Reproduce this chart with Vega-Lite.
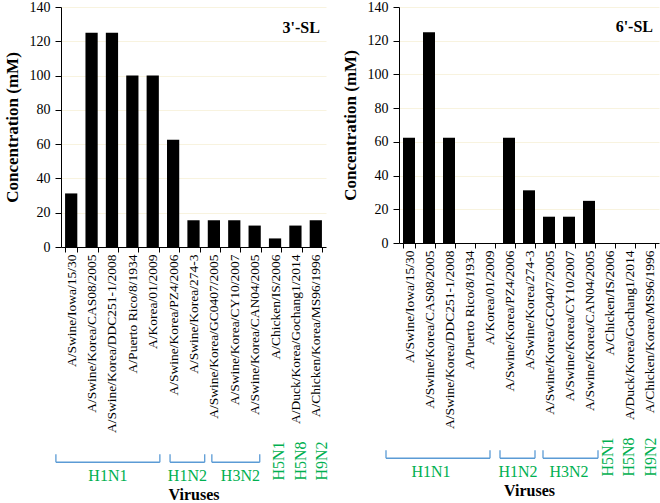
{
  "$schema": "https://vega.github.io/schema/vega-lite/v6.json",
  "padding": {"left": 3, "top": 0, "right": 2, "bottom": 0},
  "background": "white",
  "config": {
    "font": "Liberation Serif",
    "view": {"stroke": null},
    "concat": {"spacing": 11},
    "axis": {"labelFont": "Liberation Serif", "titleFont": "Liberation Serif", "labelColor": "black", "titleColor": "black", "domainColor": "black", "tickColor": "black"},
    "text": {"font": "Liberation Serif"}
  },
  "datasets": {
    "sl3": [
      {"virus": "A/Swine/Iowa/15/30", "conc": 31.25},
      {"virus": "A/Swine/Korea/CAS08/2005", "conc": 125},
      {"virus": "A/Swine/Korea/DDC251-1/2008", "conc": 125},
      {"virus": "A/Puerto Rico/8/1934", "conc": 100},
      {"virus": "A/Korea/01/2009", "conc": 100},
      {"virus": "A/Swine/Korea/PZ4/2006", "conc": 62.5},
      {"virus": "A/Swine/Korea/274-3", "conc": 15.6},
      {"virus": "A/Swine/Korea/GC0407/2005", "conc": 15.6},
      {"virus": "A/Swine/Korea/CY10/2007", "conc": 15.6},
      {"virus": "A/Swine/Korea/CAN04/2005", "conc": 12.5},
      {"virus": "A/Chicken/IS/2006", "conc": 5},
      {"virus": "A/Duck/Korea/Gochang1/2014", "conc": 12.5},
      {"virus": "A/Chicken/Korea/MS96/1996", "conc": 15.6}
    ],
    "sl6": [
      {"virus": "A/Swine/Iowa/15/30", "conc": 62.5},
      {"virus": "A/Swine/Korea/CAS08/2005", "conc": 125},
      {"virus": "A/Swine/Korea/DDC251-1/2008", "conc": 62.5},
      {"virus": "A/Puerto Rico/8/1934", "conc": 0},
      {"virus": "A/Korea/01/2009", "conc": 0},
      {"virus": "A/Swine/Korea/PZ4/2006", "conc": 62.5},
      {"virus": "A/Swine/Korea/274-3", "conc": 31.25},
      {"virus": "A/Swine/Korea/GC0407/2005", "conc": 15.6},
      {"virus": "A/Swine/Korea/CY10/2007", "conc": 15.6},
      {"virus": "A/Swine/Korea/CAN04/2005", "conc": 25},
      {"virus": "A/Chicken/IS/2006", "conc": 0},
      {"virus": "A/Duck/Korea/Gochang1/2014", "conc": 0},
      {"virus": "A/Chicken/Korea/MS96/1996", "conc": 0}
    ],
    "br3": [
      {"subtype": "H1N1", "start": -0.25, "end": 4.85, "mid": 2.3, "kind": "bracket"},
      {"subtype": "H1N2", "start": 5.35, "end": 7.05, "mid": 6.2, "kind": "bracket"},
      {"subtype": "H3N2", "start": 7.4, "end": 9.75, "mid": 8.8, "kind": "bracket"},
      {"subtype": "H5N1", "mid": 10.7, "kind": "single"},
      {"subtype": "H5N8", "mid": 11.75, "kind": "single"},
      {"subtype": "H9N2", "mid": 12.8, "kind": "single"}
    ],
    "br6": [
      {"subtype": "H1N1", "start": -0.65, "end": 4.55, "mid": 1.6, "kind": "bracket"},
      {"subtype": "H1N2", "start": 5.05, "end": 6.8, "mid": 5.95, "kind": "bracket"},
      {"subtype": "H3N2", "start": 7.2, "end": 9.95, "mid": 8.5, "kind": "bracket"},
      {"subtype": "H5N1", "mid": 10.45, "kind": "single"},
      {"subtype": "H5N8", "mid": 11.5, "kind": "single"},
      {"subtype": "H9N2", "mid": 12.6, "kind": "single"}
    ]
  },
  "hconcat": [
    {
      "spacing": 7,
      "vconcat": [
        {
          "width": 265,
          "height": 240,
          "data": {"name": "sl3"},
          "layer": [
            {
              "mark": {"type": "bar", "color": "black"},
              "encoding": {
                "x": {"field": "virus", "type": "nominal", "sort": null,
                  "scale": {"paddingInner": 0.4, "paddingOuter": 0.2},
                  "axis": {"title": null, "labelAngle": -90, "labelFont": "Liberation Serif", "labelFontSize": 13.5, "labelLimit": 0, "labelOverlap": false, "tickBand": "extent", "tickSize": 5, "labelPadding": 2}},
                "y": {"field": "conc", "type": "quantitative",
                  "scale": {"domain": [0, 140], "nice": false},
                  "axis": {"title": "Concentration (mM)", "titleFont": "Liberation Serif", "labelFont": "Liberation Serif", "titleFontSize": 17, "titleFontWeight": "bold", "titlePadding": 8, "labelFontSize": 14, "labelOverlap": false, "values": [0, 20, 40, 60, 80, 100, 120, 140], "tickSize": 6, "labelPadding": 5, "grid": true, "gridColor": "#f8f3df"}}
              }
            },
            {
              "transform": [{"filter": "datum.virus == 'A/Chicken/Korea/MS96/1996'"}],
              "mark": {"type": "text", "align": "right", "baseline": "middle", "fontWeight": "bold", "fontSize": 16, "dx": -2, "color": "black"},
              "encoding": {
                "x": {"field": "virus", "type": "nominal", "sort": null, "bandPosition": 1},
                "y": {"datum": 128, "type": "quantitative",
                  "axis": {"title": "Concentration (mM)", "titleFont": "Liberation Serif", "labelFont": "Liberation Serif", "titleFontSize": 17, "titleFontWeight": "bold", "titlePadding": 8, "labelFontSize": 14, "labelOverlap": false, "values": [0, 20, 40, 60, 80, 100, 120, 140], "tickSize": 6, "labelPadding": 5, "grid": true, "gridColor": "#f8f3df"}},
                "text": {"value": "3'-SL"}
              }
            }
          ]
        },
        {
          "width": 265,
          "height": 42,
          "data": {"name": "br3"},
          "encoding": {
            "x": {"type": "quantitative", "scale": {"domain": [0, 13], "nice": false, "zero": false},
              "axis": {"title": "Viruses", "titleFont": "Liberation Serif", "titleFontSize": 16, "titleFontWeight": "bold", "labels": false, "ticks": false, "domain": false, "grid": false, "titlePadding": 4}}
          },
          "layer": [
            {
              "transform": [{"filter": "datum.kind == 'bracket'"}],
              "mark": {"type": "rule", "color": "#5b9bd5", "strokeWidth": 1.3},
              "encoding": {
                "x": {"field": "start", "type": "quantitative"},
                "x2": {"field": "end"},
                "y": {"datum": 0.47, "type": "quantitative", "scale": {"domain": [0, 1]}, "axis": null}
              }
            },
            {
              "transform": [{"filter": "datum.kind == 'bracket'"}, {"fold": ["start", "end"], "as": ["side", "pos"]}],
              "mark": {"type": "rule", "color": "#5b9bd5", "strokeWidth": 1.3},
              "encoding": {
                "x": {"field": "pos", "type": "quantitative"},
                "y": {"datum": 0.47, "type": "quantitative"},
                "y2": {"datum": 0.66}
              }
            },
            {
              "transform": [{"filter": "datum.kind == 'bracket'"}],
              "mark": {"type": "text", "color": "#00b050", "fontSize": 16, "baseline": "middle"},
              "encoding": {
                "x": {"field": "mid", "type": "quantitative"},
                "y": {"datum": 0.15, "type": "quantitative"},
                "text": {"field": "subtype"}
              }
            },
            {
              "transform": [{"filter": "datum.kind == 'single'"}],
              "mark": {"type": "text", "color": "#00b050", "fontSize": 16, "baseline": "middle", "align": "center", "angle": 270},
              "encoding": {
                "x": {"field": "mid", "type": "quantitative"},
                "y": {"datum": 0.5, "type": "quantitative"},
                "text": {"field": "subtype"}
              }
            }
          ]
        }
      ]
    },
    {
      "spacing": 7,
      "vconcat": [
        {
          "width": 260,
          "height": 236,
          "data": {"name": "sl6"},
          "layer": [
            {
              "mark": {"type": "bar", "color": "black"},
              "encoding": {
                "x": {"field": "virus", "type": "nominal", "sort": null,
                  "scale": {"paddingInner": 0.4, "paddingOuter": 0.2},
                  "axis": {"title": null, "labelAngle": -90, "labelFont": "Liberation Serif", "labelFontSize": 13.5, "labelLimit": 0, "labelOverlap": false, "tickBand": "extent", "tickSize": 5, "labelPadding": 2}},
                "y": {"field": "conc", "type": "quantitative",
                  "scale": {"domain": [0, 140], "nice": false},
                  "axis": {"title": "Concentration (mM)", "titleFont": "Liberation Serif", "labelFont": "Liberation Serif", "titleFontSize": 17, "titleFontWeight": "bold", "titlePadding": 8, "labelFontSize": 14, "labelOverlap": false, "values": [0, 20, 40, 60, 80, 100, 120, 140], "tickSize": 6, "labelPadding": 5, "grid": true, "gridColor": "#f8f3df"}}
              }
            },
            {
              "transform": [{"filter": "datum.virus == 'A/Chicken/Korea/MS96/1996'"}],
              "mark": {"type": "text", "align": "right", "baseline": "middle", "fontWeight": "bold", "fontSize": 16, "dx": -2, "color": "black"},
              "encoding": {
                "x": {"field": "virus", "type": "nominal", "sort": null, "bandPosition": 1},
                "y": {"datum": 128, "type": "quantitative",
                  "axis": {"title": "Concentration (mM)", "titleFont": "Liberation Serif", "labelFont": "Liberation Serif", "titleFontSize": 17, "titleFontWeight": "bold", "titlePadding": 8, "labelFontSize": 14, "labelOverlap": false, "values": [0, 20, 40, 60, 80, 100, 120, 140], "tickSize": 6, "labelPadding": 5, "grid": true, "gridColor": "#f8f3df"}},
                "text": {"value": "6'-SL"}
              }
            }
          ]
        },
        {
          "width": 260,
          "height": 42,
          "data": {"name": "br6"},
          "encoding": {
            "x": {"type": "quantitative", "scale": {"domain": [0, 13], "nice": false, "zero": false},
              "axis": {"title": "Viruses", "titleFont": "Liberation Serif", "titleFontSize": 16, "titleFontWeight": "bold", "labels": false, "ticks": false, "domain": false, "grid": false, "titlePadding": 4}}
          },
          "layer": [
            {
              "transform": [{"filter": "datum.kind == 'bracket'"}],
              "mark": {"type": "rule", "color": "#5b9bd5", "strokeWidth": 1.3},
              "encoding": {
                "x": {"field": "start", "type": "quantitative"},
                "x2": {"field": "end"},
                "y": {"datum": 0.47, "type": "quantitative", "scale": {"domain": [0, 1]}, "axis": null}
              }
            },
            {
              "transform": [{"filter": "datum.kind == 'bracket'"}, {"fold": ["start", "end"], "as": ["side", "pos"]}],
              "mark": {"type": "rule", "color": "#5b9bd5", "strokeWidth": 1.3},
              "encoding": {
                "x": {"field": "pos", "type": "quantitative"},
                "y": {"datum": 0.47, "type": "quantitative"},
                "y2": {"datum": 0.66}
              }
            },
            {
              "transform": [{"filter": "datum.kind == 'bracket'"}],
              "mark": {"type": "text", "color": "#00b050", "fontSize": 16, "baseline": "middle"},
              "encoding": {
                "x": {"field": "mid", "type": "quantitative"},
                "y": {"datum": 0.15, "type": "quantitative"},
                "text": {"field": "subtype"}
              }
            },
            {
              "transform": [{"filter": "datum.kind == 'single'"}],
              "mark": {"type": "text", "color": "#00b050", "fontSize": 16, "baseline": "middle", "align": "center", "angle": 270},
              "encoding": {
                "x": {"field": "mid", "type": "quantitative"},
                "y": {"datum": 0.5, "type": "quantitative"},
                "text": {"field": "subtype"}
              }
            }
          ]
        }
      ]
    }
  ]
}
